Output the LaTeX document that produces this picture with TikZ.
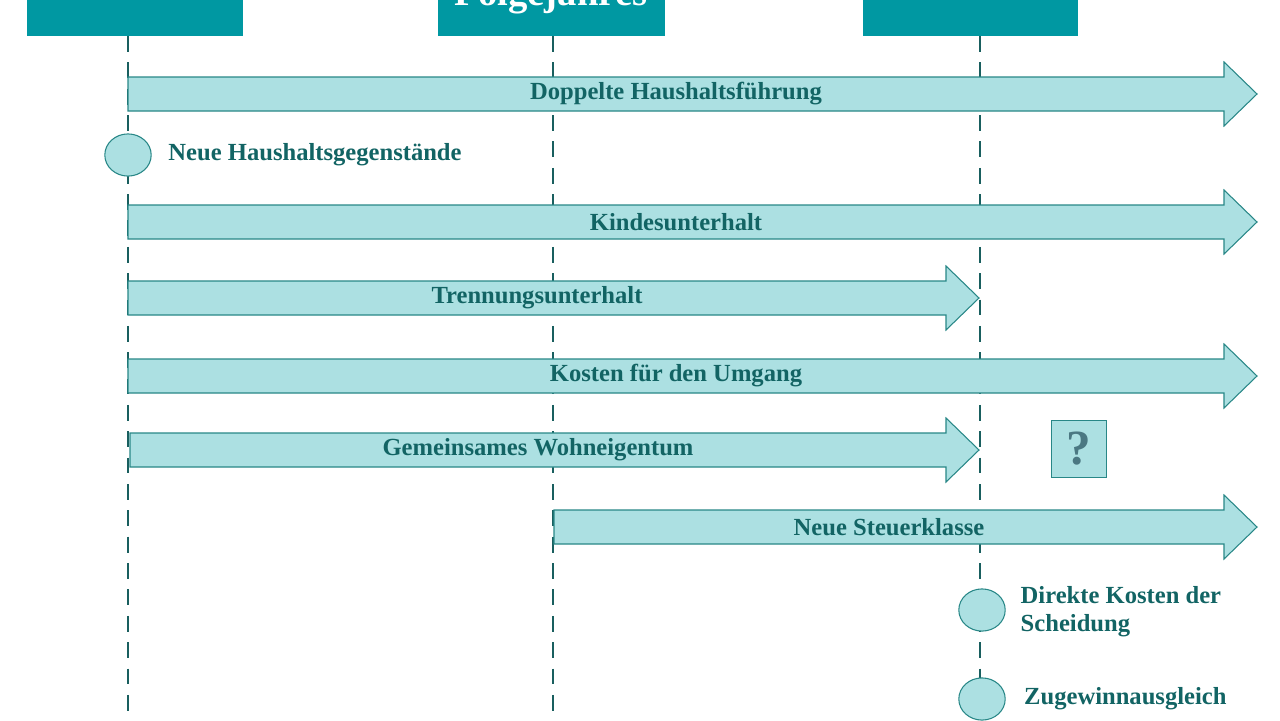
\documentclass[tikz,border=0pt]{standalone}
\usepackage{fontspec}
\setmainfont{Liberation Serif}
\usetikzlibrary{positioning,shapes.geometric}
\definecolor{box_teal}{RGB}{0,152,162}
\definecolor{band_fill}{RGB}{172,224,226}
\definecolor{band_edge}{RGB}{40,135,135}
\definecolor{txt_teal}{RGB}{18,100,100}
\definecolor{line_teal}{RGB}{25,95,95}
\definecolor{ask_gray}{RGB}{75,120,130}
% band: start x, end x, y, label
\newcommand\band[5]{%
  \draw[band] (#1,#3-17) -- (#2-33,#3-17) -- (#2-33,#3-32) -- (#2,#3) -- (#2-33,#3+32)
    -- (#2-33,#3+17) -- (#1,#3+17) -- cycle;
  \node[lbl] (#5) at ({(#1+#2-33)/2},#3) {#4};}
\begin{document}
\begin{tikzpicture}[x=0.02cm,y=-0.02cm]
    \tikzset{band/.style={fill=band_fill,draw=band_edge,line width=0.6pt},
      lbl/.style={text=txt_teal,font=\bfseries\fontsize{14}{16}\selectfont},
      year/.style={fill=box_teal,draw=none,inner sep=0pt},
      time/.style={line_teal,line width=1.1pt,dash pattern=on 9pt off 6pt},
      dot/.style={ellipse,fill=band_fill,draw=band_edge,line width=0.6pt,minimum width=26.4pt,minimum height=24pt,inner sep=0pt}}
    \useasboundingbox (0,0) rectangle (1280,720);
    \clip (0,0) rectangle (1280,720);

    \fill[year] (27,-20) rectangle (243,36);
    \fill[year] (438,-20) rectangle (665,36);
    \fill[year] (863,-20) rectangle (1078,36);
    \node[text=white,font=\bfseries\fontsize{22}{24}\selectfont] (folge) at (551,-4) {Folgejahres};

    \coordinate (t1a) at (128,36);  \coordinate (t1b) at (128,720);
    \coordinate (t2a) at (553,36);  \coordinate (t2b) at (553,720);
    \coordinate (t3a) at (980,36);  \coordinate (t3b) at (980,720);
    \draw[time] (t1a) -- (t1b);
    \draw[time] (t2a) -- (t2b);
    \draw[time] (t3a) -- (t3b);

    \band{128}{1257}{94}{Doppelte Haushaltsführung}{doppelt}
    \band{128}{1257}{222}{Kindesunterhalt}{kind}
    \band{128}{979}{298}{Trennungsunterhalt}{trennung}
    \band{128}{1257}{376}{Kosten für den Umgang}{umgang}
    \band{130}{979}{450}{Gemeinsames Wohneigentum}{wohnen}
    \band{554}{1257}{527}{Neue Steuerklasse}{steuer}

    \node[dot] (d1) at (128,155) {};
    \node[lbl,right=6pt of d1] (haushalt) {Neue Haushaltsgegenstände};
    \node[dot] (d2) at (982,610) {};
    \node[lbl,right=5pt of d2,align=left,yshift=-1pt] (direkt) {Direkte Kosten der\\Scheidung};
    \node[dot] (d3) at (982,699) {};
    \node[lbl,right=7pt of d3] (zugewinn) {Zugewinnausgleich};

    \node[fill=band_fill,draw=band_edge,line width=0.6pt,minimum width=31.5pt,minimum height=32.5pt,
      text=ask_gray,font=\bfseries\fontsize{28}{30}\selectfont] (frage) at (1079,449) {?};
\end{tikzpicture}
\end{document}
